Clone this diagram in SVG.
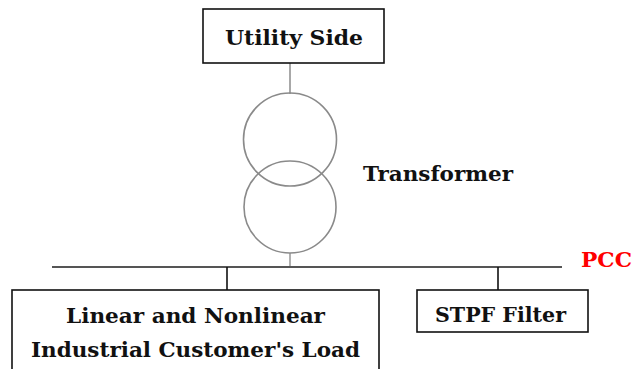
<svg xmlns="http://www.w3.org/2000/svg" width="634" height="369" viewBox="0 0 634 369">
<style>
text{font-family:"DejaVu Serif","Liberation Serif",serif;font-weight:bold;font-size:21px;fill:#111}
.box{fill:#fff;stroke:#111;stroke-width:1.6}
.coil{fill:none;stroke:#8a8a8a;stroke-width:1.6}
</style>
<rect width="634" height="369" fill="#fff"/>
<g id="connectors">
<line x1="290" y1="63" x2="290" y2="94" stroke="#a8a8a8" stroke-width="2"/>
<line x1="290" y1="253" x2="290" y2="267" stroke="#b0b0b0" stroke-width="2"/>
<line x1="52" y1="267" x2="562" y2="267" stroke="#555" stroke-width="2"/>
<line x1="227" y1="267" x2="227" y2="290" stroke="#111" stroke-width="1.6"/>
<line x1="498" y1="267" x2="498" y2="290" stroke="#111" stroke-width="1.6"/>
</g>
<g id="utility">
<rect class="box" x="203" y="9" width="181" height="54"/>
<text x="225" y="44.5" textLength="138" lengthAdjust="spacingAndGlyphs">Utility Side</text>
</g>
<g id="transformer">
<circle class="coil" cx="290" cy="139.5" r="46.5"/>
<circle class="coil" cx="290" cy="207" r="46"/>
<text x="363" y="181" textLength="150" lengthAdjust="spacingAndGlyphs">Transformer</text>
</g>
<g id="pcc">
<text x="581" y="267" textLength="51" lengthAdjust="spacingAndGlyphs" style="fill:#f00">PCC</text>
</g>
<g id="load">
<rect class="box" x="12" y="290" width="367" height="90"/>
<text x="66" y="323" textLength="259" lengthAdjust="spacingAndGlyphs">Linear and Nonlinear</text>
<text x="31" y="357" textLength="329" lengthAdjust="spacingAndGlyphs">Industrial Customer's Load</text>
</g>
<g id="filter">
<rect class="box" x="417" y="290" width="171" height="42"/>
<text x="435" y="322" textLength="131" lengthAdjust="spacingAndGlyphs">STPF Filter</text>
</g>
</svg>
